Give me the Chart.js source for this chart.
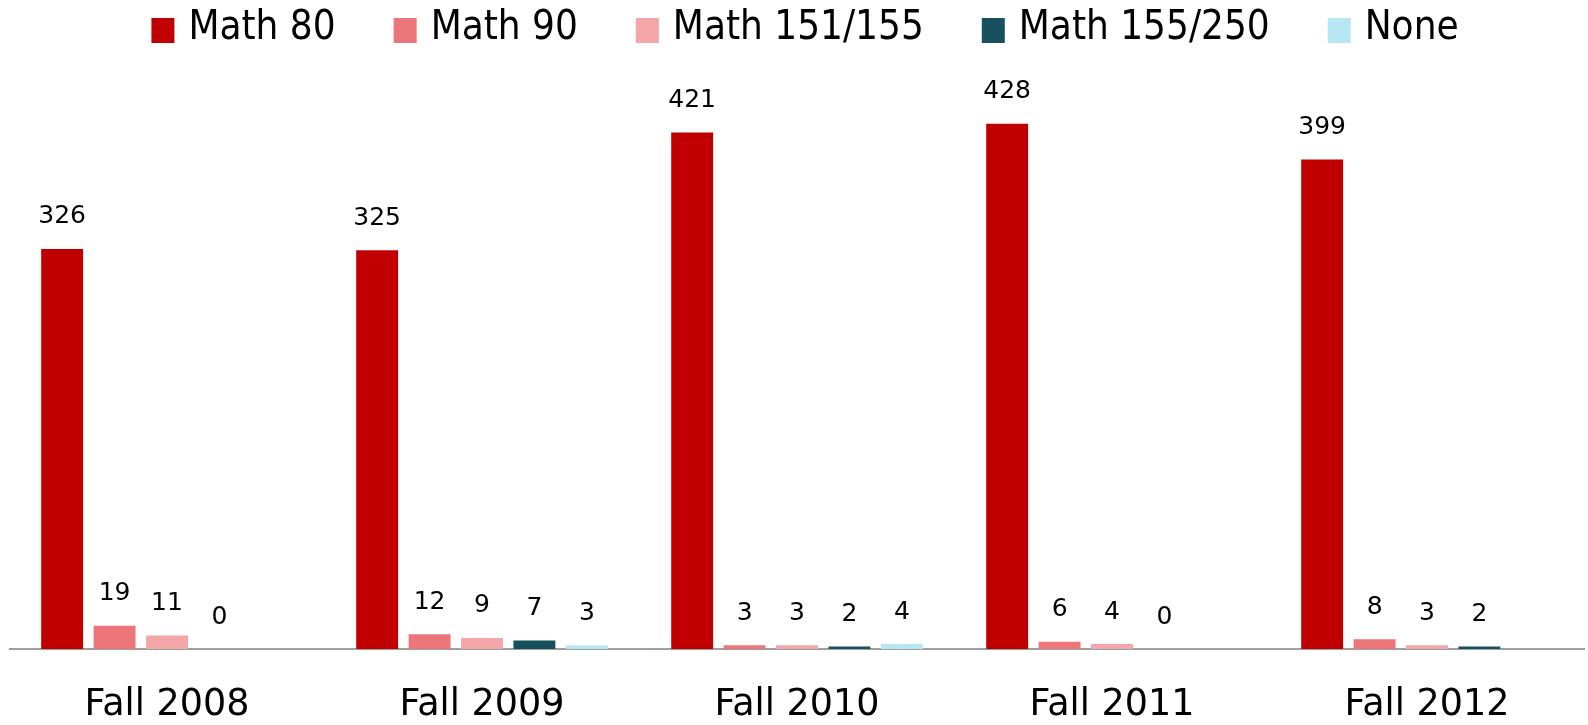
<!DOCTYPE html>
<html>
<head>
<meta charset="utf-8">
<script src="https://cdn.jsdelivr.net/npm/chart.js@4/dist/chart.umd.min.js"></script>
<style>
  html, body { margin: 0; padding: 0; background: #fff; }
  #wrap { width: 1588px; height: 725px; }
</style>
</head>
<body>
<div id="wrap"><canvas id="myChart"></canvas></div>
<script>
// terms on the x axis
var terms = ['Fall 2008', 'Fall 2009', 'Fall 2010', 'Fall 2011', 'Fall 2012'];

// one array per placement course (null = no bar, no label)
var math80 = [326, 325, 421, 428, 399];
var math90 = [19, 12, 3, 6, 8];
var math151 = [11, 9, 3, 4, 3];
var math155 = [0, 7, 2, 0, 2];
var none = [null, 3, 4, null, null];

// value labels drawn above every bar
var barLabels = {
  id: 'barLabels',
  afterDatasetsDraw: function(chart) {
    var ctx = chart.ctx;
    ctx.save();
    ctx.font = '25px "DejaVu Sans"';
    ctx.fillStyle = '#000';
    ctx.textAlign = 'center';
    ctx.textBaseline = 'middle';
    chart.data.datasets.forEach(function(ds, i) {
      var meta = chart.getDatasetMeta(i);
      meta.data.forEach(function(bar, j) {
        var v = ds.data[j];
        if (v === null || v === undefined) return;
        ctx.fillText(String(v), bar.x, bar.y - 32);
      });
    });
    ctx.restore();
  }
};

// legend row along the top, spaced like the original
var topLegend = {
  id: 'topLegend',
  afterDraw: function(chart) {
    var ctx = chart.ctx;
    var boxW = 23, boxH = 25, textGap = 14, itemGap = 58;
    ctx.save();
    ctx.font = '40px "DejaVu Sans Condensed", "DejaVu Sans"';
    var widths = chart.data.datasets.map(function(ds) {
      return boxW + textGap + ctx.measureText(ds.label).width;
    });
    var total = widths.reduce(function(a, b) { return a + b; }, 0) + itemGap * (widths.length - 1);
    var x = 805 - total / 2;
    ctx.textAlign = 'left';
    ctx.textBaseline = 'alphabetic';
    chart.data.datasets.forEach(function(ds, i) {
      ctx.fillStyle = ds.backgroundColor;
      ctx.fillRect(x, 18, boxW, boxH);
      ctx.fillStyle = '#000';
      ctx.fillText(ds.label, x + boxW + textGap, 38.5);
      x += widths[i] + itemGap;
    });
    ctx.restore();
  }
};

var myChart = new Chart(
  document.getElementById('myChart'),
  {
    type: 'bar',
    data: {
      labels: terms,
      datasets: [
        { label: 'Math 80', backgroundColor: '#C00000', data: math80 },
        { label: 'Math 90', backgroundColor: '#ED767A', data: math90 },
        { label: 'Math 151/155', backgroundColor: '#F4A6A8', data: math151 },
        { label: 'Math 155/250', backgroundColor: '#17505E', data: math155 },
        { label: 'None', backgroundColor: '#B6E7F3', data: none }
      ]
    },
    options: {
      responsive: true,
      maintainAspectRatio: false,
      animation: false,
      layout: { padding: { top: 60, left: 9.5, right: 3.5, bottom: 0 } },
      datasets: {
        bar: { barPercentage: 0.8, categoryPercentage: 0.832 }
      },
      plugins: {
        legend: { display: false },
        tooltip: { enabled: false }
      },
      scales: {
        x: {
          grid: { display: false, drawTicks: false },
          border: { display: true, color: '#9f9f9f', width: 2 },
          ticks: {
            color: '#000',
            padding: 36,
            maxRotation: 0,
            font: { family: '"DejaVu Sans"', size: 36.5, lineHeight: 1.1 }
          },
          afterFit: function(scale) {
            scale.height = 76;
          }
        },
        y: {
          display: false,
          min: 0,
          max: 480
        }
      }
    },
    plugins: [barLabels, topLegend]
  }
);
</script>
</body>
</html>
